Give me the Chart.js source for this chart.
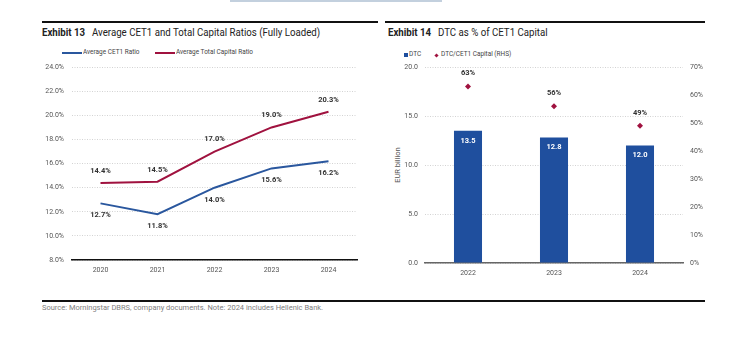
<!DOCTYPE html>
<html><head><meta charset="utf-8">
<script src="https://cdn.jsdelivr.net/npm/chart.js@4/dist/chart.umd.min.js"></script>
<style>
html,body{margin:0;padding:0;background:#fff;width:745px;height:355px;overflow:hidden;position:relative;
 font-family:"Roboto","Liberation Sans",sans-serif;}
.abs{position:absolute;}
.title{font-size:11px;color:#222;white-space:nowrap;transform:scaleX(0.88);transform-origin:0 0;}
.title b{font-weight:bold;margin-right:5px;}
.leg{font-size:7px;color:#444;white-space:nowrap;transform:scaleX(0.92);transform-origin:0 0;}
.rule{position:absolute;height:1.5px;background:#111;}
</style></head><body>
<div class="abs" style="left:230px;top:0;width:212px;height:2px;background:#c3d0de"></div>
<div class="rule" style="left:42px;top:21px;width:336px"></div>
<div class="rule" style="left:385px;top:21px;width:320px"></div>
<div class="abs title" style="left:42px;top:26px"><b>Exhibit 13</b> Average CET1 and Total Capital Ratios (Fully Loaded)</div>
<div class="abs title" style="left:388px;top:26px"><b>Exhibit 14</b> DTC as % of CET1 Capital</div>

<div class="abs" style="left:62px;top:52px;width:20px;height:2px;background:#2a579e"></div>
<div class="abs leg" style="left:83px;top:48px">Average CET1 Ratio</div>
<div class="abs" style="left:155px;top:52px;width:20px;height:2px;background:#a0123f"></div>
<div class="abs leg" style="left:176px;top:48px">Average Total Capital Ratio</div>

<div class="abs" style="left:404px;top:53px;width:4px;height:4px;background:#1f4f9e"></div>
<div class="abs leg" style="left:409px;top:50px">DTC</div>
<div class="abs" style="left:435px;top:54px;width:3px;height:3px;background:#a0123f;transform:rotate(45deg)"></div>
<div class="abs leg" style="left:441px;top:50px">DTC/CET1 Capital (RHS)</div>

<div class="abs" style="left:397px;top:165px;transform:translate(-50%,-50%) rotate(-90deg);font-size:7.5px;color:#555;white-space:nowrap">EUR billion</div>

<div class="abs" style="left:30px;top:55px;width:340px;height:230px"><canvas id="c1"></canvas></div>
<div class="abs" style="left:385px;top:55px;width:330px;height:230px"><canvas id="c2"></canvas></div>

<div class="abs" style="left:42px;top:300px;width:663px;height:1.5px;background:#111"></div>
<div class="abs" style="left:42px;top:303px;font-size:7.5px;color:#808080;white-space:nowrap">Source: Morningstar DBRS, company documents. Note: 2024 includes Hellenic Bank.</div>

<script>
const years1 = ['2020','2021','2022','2023','2024'];
const cet1Ratio = [12.7, 11.8, 14.0, 15.6, 16.2];
const totalCapRatio = [14.4, 14.5, 17.0, 19.0, 20.3];

const years2 = ['2022','2023','2024'];
const dtcBn = [13.5, 12.8, 12.0];
const dtcPctCet1 = [63, 56, 49];

const FONT = '"Roboto","Liberation Sans",sans-serif';
Chart.defaults.font.family = FONT;
Chart.defaults.animation = false;

const valueLabels = {
  id: 'valueLabels',
  afterDatasetsDraw(chart) {
    const ctx = chart.ctx;
    chart.data.datasets.forEach((ds, i) => {
      const lc = ds.lbl; if (!lc) return;
      const meta = chart.getDatasetMeta(i);
      ctx.save();
      ctx.font = 'bold 7.5px ' + FONT;
      ctx.fillStyle = lc.color;
      ctx.textAlign = 'center';
      ctx.textBaseline = 'middle';
      meta.data.forEach((el, j) => {
        const v = ds.data[j];
        ctx.fillText(lc.fmt(v), el.x, el.y + lc.dy);
      });
      ctx.restore();
    });
  }
};

const gridCfg = {color:'#c8c8c8', lineWidth:0.8, drawTicks:false};

new Chart(document.getElementById('c1'), {
  type:'line',
  data:{labels:years1, datasets:[
    {label:'Average CET1 Ratio', data:cet1Ratio, borderColor:'#2a579e', borderWidth:2, pointRadius:0, tension:0,
     lbl:{dy:12, color:'#333', fmt:v=>v.toFixed(1)+'%'}},
    {label:'Average Total Capital Ratio', data:totalCapRatio, borderColor:'#a0123f', borderWidth:2, pointRadius:0, tension:0,
     lbl:{dy:-12, color:'#333', fmt:v=>v.toFixed(1)+'%'}}
  ]},
  options:{
    responsive:true, maintainAspectRatio:false,
    layout:{padding:{top:10,right:13,left:0,bottom:0}},
    plugins:{legend:{display:false}, tooltip:{enabled:false}},
    scales:{
      x:{offset:true, grid:{display:false, drawTicks:false},
         border:{color:'#111', width:1.5},
         ticks:{color:'#555', font:{size:7}, padding:6},
         afterFit(s){s.height=25;}},
      y:{min:8, max:24, ticks:{stepSize:2, color:'#555', font:{size:7}, padding:8, callback:v=>v.toFixed(1)+'%'},
         grid:gridCfg,
         border:{display:false, dash:[1,1.5]},
         afterFit(s){s.width=42;}}
    }
  },
  plugins:[valueLabels]
});

new Chart(document.getElementById('c2'), {
  type:'bar',
  data:{labels:years2, datasets:[
    {type:'line', label:'DTC/CET1 Capital (RHS)', data:dtcPctCet1, yAxisID:'y2', showLine:false,
     pointStyle:'rectRot', pointRadius:3, pointBackgroundColor:'#a0123f', pointBorderColor:'#a0123f', pointBorderWidth:0,
     lbl:{dy:-13, color:'#333', fmt:v=>v+'%'}},
    {label:'DTC', data:dtcBn, backgroundColor:'#1f4f9e', categoryPercentage:1, barPercentage:0.326, yAxisID:'y',
     lbl:{dy:10, color:'#fff', fmt:v=>v.toFixed(1)}}
  ]},
  options:{
    responsive:true, maintainAspectRatio:false,
    layout:{padding:{top:12,right:0,left:0,bottom:0}},
    plugins:{legend:{display:false}, tooltip:{enabled:false}},
    scales:{
      x:{grid:{display:false, drawTicks:false},
         border:{color:'#666', width:1.5},
         ticks:{color:'#555', font:{size:7}, padding:6},
         afterFit(s){s.height=22;}},
      y:{position:'left', min:0, max:20, ticks:{stepSize:5, color:'#555', font:{size:7}, padding:7, callback:v=>v.toFixed(1)},
         grid:gridCfg, border:{display:false, dash:[1,1.5]},
         afterFit(s){s.width=40;}},
      y2:{position:'right', min:0, max:70, ticks:{stepSize:10, color:'#555', font:{size:7}, padding:7, callback:v=>v+'%'},
         grid:{display:false, drawTicks:false}, border:{display:false},
         afterFit(s){s.width=32;}}
    }
  },
  plugins:[valueLabels]
});
</script>
</body></html>
